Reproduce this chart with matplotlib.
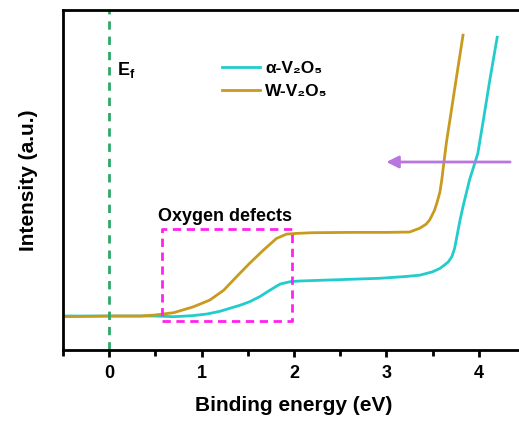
import numpy as np
import matplotlib
matplotlib.use("Agg")
import matplotlib.pyplot as plt
from matplotlib.ticker import MultipleLocator

plt.rcParams['font.family'] = ['Liberation Sans', 'DejaVu Sans']
plt.rcParams['mathtext.fontset'] = 'custom'
plt.rcParams['mathtext.rm'] = 'Liberation Sans:bold'
plt.rcParams['mathtext.bf'] = 'Liberation Sans:bold'
plt.rcParams['mathtext.it'] = 'Liberation Sans:bold'

# Data (binding energy in eV, intensity in arbitrary units)
x_alpha = [-0.5, 0.0, 0.5, 0.7, 0.9, 1.06, 1.2, 1.31, 1.42, 1.52, 1.63, 1.74, 1.85, 1.96, 2.06,
           2.5, 2.93, 3.2, 3.36, 3.5, 3.58, 3.62, 3.67, 3.71, 3.74, 3.77, 3.8, 3.83, 3.9, 3.99,
           4.05, 4.12, 4.2]
y_alpha = [10, 10, 10, 9.8, 10.1, 10.6, 11.4, 12.3, 13.2, 14.2, 15.7, 17.6, 19.4, 20.1, 20.3,
           20.7, 21.1, 21.6, 22, 23, 24, 24.8, 25.9, 27.5, 30, 34.3, 38.5, 42.2, 50, 57.8,
           67.6, 79.4, 92]

x_w = [-0.5, 0.0, 0.335, 0.5, 0.7, 0.91, 1.09, 1.24, 1.38, 1.52, 1.67, 1.81, 1.92, 2.03,
       2.2, 2.6, 3.0, 3.25, 3.36, 3.43, 3.47, 3.52, 3.55, 3.58, 3.6, 3.62, 3.65, 3.69,
       3.76, 3.83]
y_w = [9.8, 10, 10, 10.3, 11, 12.7, 14.7, 17.6, 21.6, 25.5, 29.4, 32.8, 34.1, 34.3,
       34.5, 34.6, 34.6, 34.7, 35.8, 37, 38.3, 41, 43.5, 46.5, 50, 54.5, 61, 68,
       80.4, 92.6]

labels = ['α-V₂O₅', 'W-V₂O₅']
colors = ['#22CCCC', '#C89B1E']

fig = plt.figure(figsize=(5.19, 4.21), dpi=100)
ax = fig.add_axes([0.1214, 0.1686, 0.89, 0.8076])

ax.plot(x_alpha, y_alpha, color=colors[0], lw=2, label=labels[0])
ax.plot(x_w, y_w, color=colors[1], lw=2, label=labels[1])

ax.axvline(0, color='#2EA86A', lw=2, ls=(0, (3, 2.5)))
ax.text(0.08, 81, 'E$_{\\mathbf{f}}$', fontsize=13, fontweight='bold')

# Oxygen defects box
bx0, bx1, by0, by1 = 0.57, 1.975, 8.5, 35.5
ax.plot([bx0, bx1, bx1, bx0, bx0], [by0, by0, by1, by1, by0], color='#FF22EE', lw=2,
        ls=(0, (3, 2)))
ax.text(0.53, 38, 'Oxygen defects', fontsize=13, fontweight='bold')

ax.annotate('', xy=(2.97, 55.3), xytext=(4.37, 55.3),
            arrowprops=dict(arrowstyle='-|>', color='#B877E0', lw=2,
                            mutation_scale=18))

ax.set_xlim(-0.5, 4.5)
ax.set_ylim(0, 100)
ax.set_yticks([])
ax.xaxis.set_major_locator(MultipleLocator(1))
ax.xaxis.set_minor_locator(MultipleLocator(0.5))
ax.tick_params(axis='x', which='major', direction='out', length=5, width=2,
               labelsize=13, pad=6)
ax.tick_params(axis='x', which='minor', direction='out', length=4, width=2)
for lbl in ax.get_xticklabels():
    lbl.set_fontweight('bold')
for s in ax.spines.values():
    s.set_linewidth(2)

ax.set_xlabel('Binding energy (eV)', fontsize=15, fontweight='bold', labelpad=10)
ax.set_ylabel('Intensity (a.u.)', fontsize=15, fontweight='bold', labelpad=18)

leg = ax.legend(loc='upper left', bbox_to_anchor=(0.31, 0.895), frameon=False,
                prop={'weight': 'bold', 'size': 12.5}, handlelength=2.2,
                handletextpad=0.3, labelspacing=0.45)

fig.savefig('out.png', dpi=100)
